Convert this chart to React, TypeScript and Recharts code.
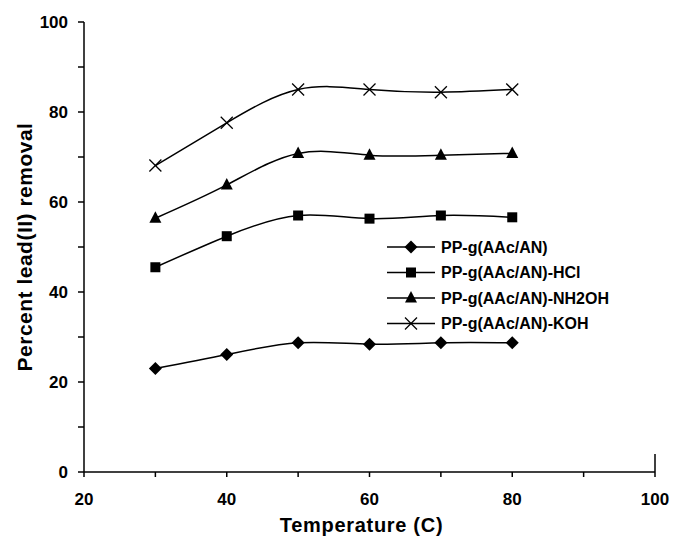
import React from "react";
import {
  LineChart,
  Line,
  XAxis,
  YAxis,
  ReferenceLine,
} from "recharts";

// temperatures (C) and percent lead(II) removal
const temps = [30, 40, 50, 60, 70, 80];
const plainVals = [23.0, 26.1, 28.7, 28.4, 28.7, 28.7];
const hclVals = [45.5, 52.4, 57.0, 56.3, 57.0, 56.6];
const nh2ohVals = [56.4, 63.8, 70.8, 70.4, 70.4, 70.8];
const kohVals = [68.1, 77.6, 85.0, 85.0, 84.4, 85.0];

const xTicks = [20, 30, 40, 50, 60, 70, 80, 90, 100];
const yTicks = [0, 10, 20, 30, 40, 50, 60, 70, 80, 90, 100];

const seriesNames = [
  "PP-g(AAc/AN)",
  "PP-g(AAc/AN)-HCl",
  "PP-g(AAc/AN)-NH2OH",
  "PP-g(AAc/AN)-KOH",
];
const seriesKeys = ["plain", "hcl", "nh2oh", "koh"];
const markers = ["diamond", "square", "triangle", "cross"];

const data = temps.map((t, i) => ({
  t,
  plain: plainVals[i],
  hcl: hclVals[i],
  nh2oh: nh2ohVals[i],
  koh: kohVals[i],
}));

const FONT = "'Liberation Sans', Arial, sans-serif";

const Marker = ({ kind, cx, cy }: { kind: string; cx: number; cy: number }) => {
  if (kind === "diamond") {
    const r = 6.5;
    return (
      <polygon
        points={`${cx},${cy - r} ${cx + r},${cy} ${cx},${cy + r} ${cx - r},${cy}`}
        fill="#000"
      />
    );
  }
  if (kind === "square") {
    const r = 5;
    return <rect x={cx - r} y={cy - r} width={2 * r} height={2 * r} fill="#000" />;
  }
  if (kind === "triangle") {
    return (
      <polygon
        points={`${cx},${cy - 7} ${cx + 6},${cy + 4.5} ${cx - 6},${cy + 4.5}`}
        fill="#000"
      />
    );
  }
  const r = 6;
  return (
    <g stroke="#000" strokeWidth={1.3}>
      <line x1={cx - r} y1={cy - r} x2={cx + r} y2={cy + r} />
      <line x1={cx - r} y1={cy + r} x2={cx + r} y2={cy - r} />
    </g>
  );
};

const makeDot = (kind: string) => (props: any) => {
  const { cx, cy, index } = props;
  if (cx == null || cy == null) return <g key={index} />;
  return <Marker key={index} kind={kind} cx={cx} cy={cy} />;
};

// legend drawn as an overlay so it does not take space from the plot
const LegendBox = () => (
  <svg
    width={240}
    height={110}
    style={{ position: "absolute", left: 385, top: 237, overflow: "visible" }}
  >
    {seriesNames.map((name, i) => {
      const y = 10 + i * 25.5;
      return (
        <g key={name}>
          <line x1={2} y1={y} x2={50} y2={y} stroke="#000" strokeWidth={1.5} />
          <Marker kind={markers[i]} cx={26} cy={y} />
          <text
            x={56}
            y={y}
            dominantBaseline="central"
            fontFamily={FONT}
            fontWeight="bold"
            fontSize={16}
            fill="#000"
          >
            {name}
          </text>
        </g>
      );
    })}
  </svg>
);

const YTitle = (props: any) => {
  const { viewBox } = props;
  const x = viewBox.x + 24;
  const y = viewBox.y + viewBox.height / 2;
  return (
    <text
      x={x}
      y={y}
      transform={`rotate(-90, ${x}, ${y})`}
      textAnchor="middle"
      dominantBaseline="central"
      fontFamily={FONT}
      fontWeight="bold"
      fontSize={21}
      letterSpacing={0.5}
      fill="#000"
    >
      Percent lead(II) removal
    </text>
  );
};

const XTitle = (props: any) => {
  const { viewBox } = props;
  const x = viewBox.x + viewBox.width / 2 - 8;
  const y = viewBox.y + 53;
  return (
    <text
      x={x}
      y={y}
      textAnchor="middle"
      dominantBaseline="central"
      fontFamily={FONT}
      fontWeight="bold"
      fontSize={20}
      letterSpacing={0.7}
      fill="#000"
    >
      Temperature (C)
    </text>
  );
};

const tickStyle = {
  fontFamily: FONT,
  fontWeight: "bold" as const,
  fontSize: 17,
  fill: "#000",
};

export default function App() {
  return (
    <div
      style={{
        position: "absolute",
        left: 0,
        top: 0,
        width: 673,
        height: 536,
        background: "#fff",
      }}
    >
      <LineChart
        width={673}
        height={536}
        data={data}
        margin={{ top: 22, right: 18, bottom: 34, left: 0 }}
      >
        <XAxis
          dataKey="t"
          type="number"
          domain={[20, 100]}
          ticks={xTicks}
          tickFormatter={(v: number) => (v % 20 === 0 ? String(v) : "")}
          tickSize={5}
          tickMargin={16}
          height={30}
          stroke="#000"
          strokeWidth={1.5}
          tick={tickStyle}
          label={<XTitle />}
          allowDataOverflow
        />
        <YAxis
          type="number"
          domain={[0, 100]}
          ticks={yTicks}
          tickFormatter={(v: number) => (v % 20 === 0 ? String(v) : "")}
          tickSize={6}
          tickMargin={10}
          width={84}
          stroke="#000"
          strokeWidth={1.5}
          tick={tickStyle}
          label={<YTitle />}
        />
        <ReferenceLine
          segment={[
            { x: 100, y: 0 },
            { x: 100, y: 4 },
          ]}
          stroke="#000"
          strokeWidth={1.5}
        />
        {seriesKeys.map((k, i) => (
          <Line
            key={k}
            dataKey={k}
            name={seriesNames[i]}
            type="natural"
            stroke="#000"
            strokeWidth={1.5}
            dot={makeDot(markers[i])}
            activeDot={false}
            isAnimationActive={false}
            legendType="none"
          />
        ))}
      </LineChart>
      <LegendBox />
    </div>
  );
}
